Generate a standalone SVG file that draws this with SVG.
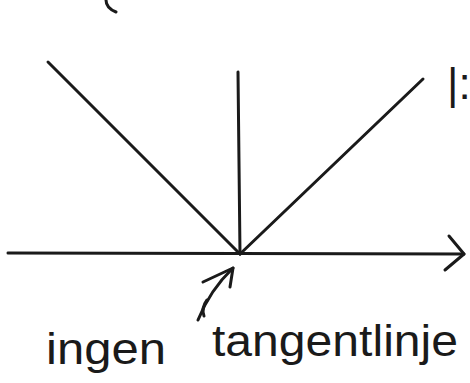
<svg xmlns="http://www.w3.org/2000/svg" width="470" height="383" viewBox="0 0 470 383">
<style>
.s{fill:none;stroke:#1a1a1a;stroke-width:3;stroke-linecap:round;stroke-linejoin:round}
.t{font-family:"Liberation Sans",sans-serif;fill:#1a1a1a;font-size:44px}
</style>
<rect width="470" height="383" fill="#fff"/>
<g id="connectors">
<path class="s" d="M106,0 Q106,8 116,12"/>
<path class="s" d="M8,253 L464,254"/>
<path class="s" d="M449,236 L464,254 L445,270"/>
<path class="s" d="M48,62 L240,254"/>
<path class="s" d="M238,72 L240,254"/>
<path class="s" d="M240,254 L423,79"/>
<path class="s" d="M198,320 Q210,290 233,268"/>
<path class="s" d="M203,282 L233,268 L230,287"/>
</g>
<g id="labels">
<text class="t" x="447" y="99" font-size="30">|:</text>
<text class="t" x="46" y="364" textLength="120" lengthAdjust="spacingAndGlyphs">ingen</text>
<path class="s" d="M207,300 Q201,308 204,316"/>
<text class="t" x="212" y="356" textLength="246" lengthAdjust="spacingAndGlyphs">tangentlinje</text>
</g>
</svg>
